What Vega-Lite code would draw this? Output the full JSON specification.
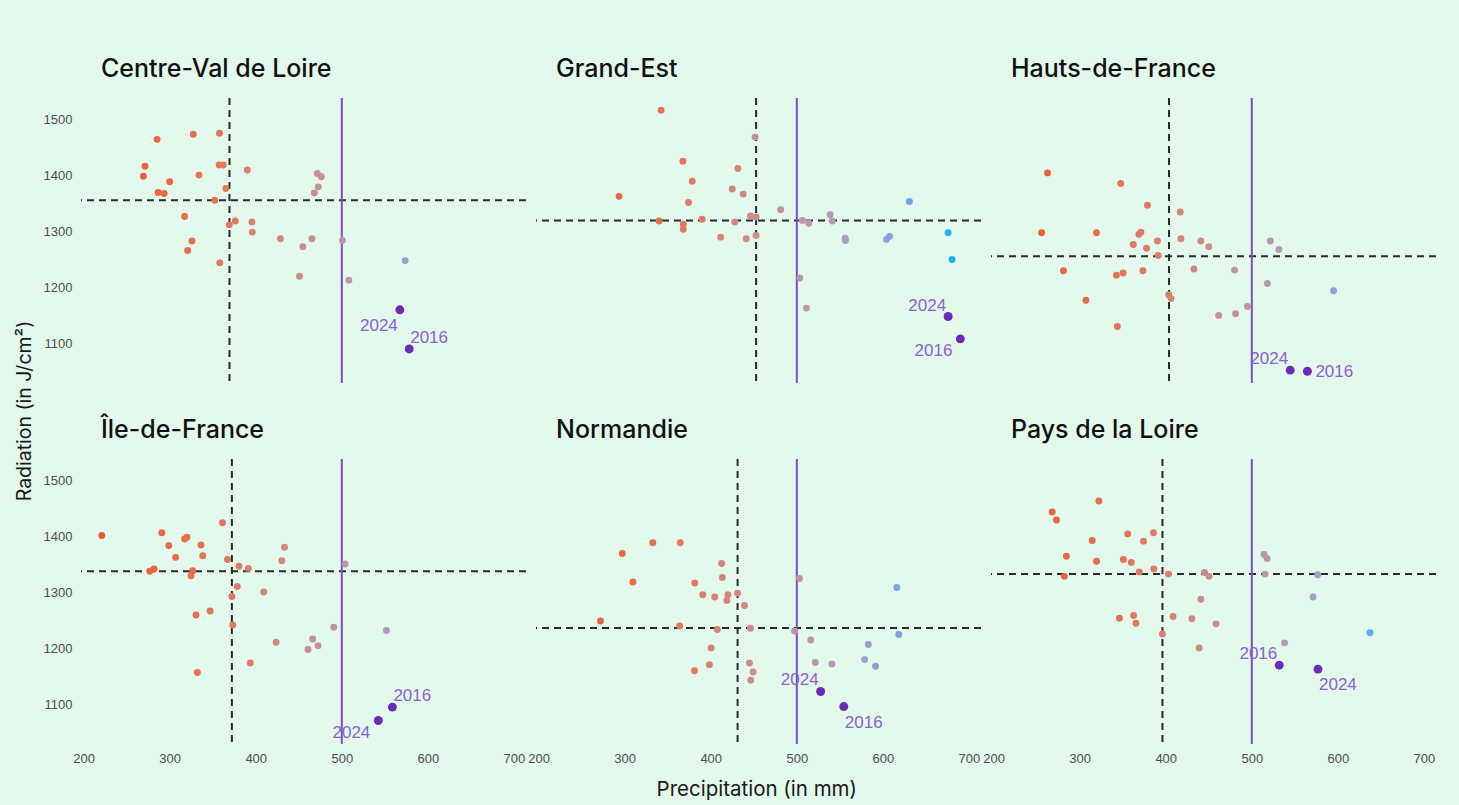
{
  "$schema": "https://vega.github.io/schema/vega-lite/v6.json",
  "background": "#e3f9ec",
  "padding": {"left": 14, "top": 57, "right": 26, "bottom": 8},
  "title": {"text": "Precipitation (in mm)", "orient": "bottom", "anchor": "middle", "frame": "bounds", "dx": 31, "offset": 15, "font": "Inter", "fontSize": 20.5, "fontWeight": 400, "color": "#1a1a1a"},
  "config": {
    "view": {"stroke": null},
    "axis": {"domain": false, "ticks": false, "grid": false, "labelFont": "Liberation Sans", "labelFontSize": 13, "labelColor": "#4d4d4d", "title": null},
    "title": {"anchor": "start", "frame": "group", "dx": 20, "offset": 15, "font": "Inter", "fontSize": 25, "fontWeight": 500, "color": "#111111"},
    "rule": {"color": "#2a2a2a", "strokeWidth": 2, "strokeDash": [7, 5]},
    "circle": {"size": 48, "opacity": 1},
    "text": {"font": "Liberation Sans", "fontSize": 17, "color": "#8b60d0"},
    "concat": {"spacing": 10}
  },
  "data": {"values": [
    {"region": "Centre-Val de Loire", "mean_precip": 369.5, "mean_radiation": 1356},
    {"region": "Centre-Val de Loire", "precip": 269.5, "radiation": 1399},
    {"region": "Centre-Val de Loire", "precip": 271.4, "radiation": 1417},
    {"region": "Centre-Val de Loire", "precip": 285.4, "radiation": 1465},
    {"region": "Centre-Val de Loire", "precip": 286.6, "radiation": 1370},
    {"region": "Centre-Val de Loire", "precip": 293.6, "radiation": 1368},
    {"region": "Centre-Val de Loire", "precip": 300, "radiation": 1389},
    {"region": "Centre-Val de Loire", "precip": 317.4, "radiation": 1327},
    {"region": "Centre-Val de Loire", "precip": 320.9, "radiation": 1266},
    {"region": "Centre-Val de Loire", "precip": 326, "radiation": 1283},
    {"region": "Centre-Val de Loire", "precip": 327.5, "radiation": 1474},
    {"region": "Centre-Val de Loire", "precip": 334.1, "radiation": 1401},
    {"region": "Centre-Val de Loire", "precip": 352.4, "radiation": 1356},
    {"region": "Centre-Val de Loire", "precip": 357.9, "radiation": 1476},
    {"region": "Centre-Val de Loire", "precip": 358.3, "radiation": 1244},
    {"region": "Centre-Val de Loire", "precip": 357.5, "radiation": 1419},
    {"region": "Centre-Val de Loire", "precip": 362.2, "radiation": 1419},
    {"region": "Centre-Val de Loire", "precip": 365.3, "radiation": 1377},
    {"region": "Centre-Val de Loire", "precip": 369.2, "radiation": 1312},
    {"region": "Centre-Val de Loire", "precip": 376.2, "radiation": 1319},
    {"region": "Centre-Val de Loire", "precip": 390.2, "radiation": 1410},
    {"region": "Centre-Val de Loire", "precip": 395.6, "radiation": 1317},
    {"region": "Centre-Val de Loire", "precip": 396, "radiation": 1299},
    {"region": "Centre-Val de Loire", "precip": 428.7, "radiation": 1287},
    {"region": "Centre-Val de Loire", "precip": 450.9, "radiation": 1220},
    {"region": "Centre-Val de Loire", "precip": 454.8, "radiation": 1273},
    {"region": "Centre-Val de Loire", "precip": 465.3, "radiation": 1287},
    {"region": "Centre-Val de Loire", "precip": 468.1, "radiation": 1369},
    {"region": "Centre-Val de Loire", "precip": 471.6, "radiation": 1404},
    {"region": "Centre-Val de Loire", "precip": 476.2, "radiation": 1398},
    {"region": "Centre-Val de Loire", "precip": 472.7, "radiation": 1380},
    {"region": "Centre-Val de Loire", "precip": 500.8, "radiation": 1284},
    {"region": "Centre-Val de Loire", "precip": 508.2, "radiation": 1213},
    {"region": "Centre-Val de Loire", "precip": 573.6, "radiation": 1248},
    {"region": "Centre-Val de Loire", "precip": 567.4, "radiation": 1160, "year": "2024"},
    {"region": "Centre-Val de Loire", "precip": 578.3, "radiation": 1090, "year": "2016"},

    {"region": "Grand-Est", "mean_precip": 452.7, "mean_radiation": 1320},
    {"region": "Grand-Est", "precip": 293.5, "radiation": 1363},
    {"region": "Grand-Est", "precip": 340, "radiation": 1319},
    {"region": "Grand-Est", "precip": 342.3, "radiation": 1517},
    {"region": "Grand-Est", "precip": 367.7, "radiation": 1426},
    {"region": "Grand-Est", "precip": 368.1, "radiation": 1313},
    {"region": "Grand-Est", "precip": 368.1, "radiation": 1304},
    {"region": "Grand-Est", "precip": 378.5, "radiation": 1390},
    {"region": "Grand-Est", "precip": 374.2, "radiation": 1352},
    {"region": "Grand-Est", "precip": 390, "radiation": 1322},
    {"region": "Grand-Est", "precip": 411.5, "radiation": 1290},
    {"region": "Grand-Est", "precip": 425, "radiation": 1376},
    {"region": "Grand-Est", "precip": 431.5, "radiation": 1413},
    {"region": "Grand-Est", "precip": 428, "radiation": 1317},
    {"region": "Grand-Est", "precip": 437.7, "radiation": 1367},
    {"region": "Grand-Est", "precip": 441.2, "radiation": 1287},
    {"region": "Grand-Est", "precip": 446.2, "radiation": 1328},
    {"region": "Grand-Est", "precip": 452.7, "radiation": 1326},
    {"region": "Grand-Est", "precip": 451.5, "radiation": 1469},
    {"region": "Grand-Est", "precip": 452.7, "radiation": 1293},
    {"region": "Grand-Est", "precip": 481.2, "radiation": 1339},
    {"region": "Grand-Est", "precip": 503.5, "radiation": 1217},
    {"region": "Grand-Est", "precip": 506.5, "radiation": 1320},
    {"region": "Grand-Est", "precip": 511.2, "radiation": 1163},
    {"region": "Grand-Est", "precip": 513.8, "radiation": 1315},
    {"region": "Grand-Est", "precip": 538.8, "radiation": 1330},
    {"region": "Grand-Est", "precip": 541.2, "radiation": 1319},
    {"region": "Grand-Est", "precip": 556.2, "radiation": 1288},
    {"region": "Grand-Est", "precip": 556.5, "radiation": 1284},
    {"region": "Grand-Est", "precip": 604.2, "radiation": 1286},
    {"region": "Grand-Est", "precip": 607.7, "radiation": 1291},
    {"region": "Grand-Est", "precip": 630.8, "radiation": 1354},
    {"region": "Grand-Est", "precip": 675.8, "radiation": 1298},
    {"region": "Grand-Est", "precip": 680.4, "radiation": 1250},
    {"region": "Grand-Est", "precip": 675.8, "radiation": 1148, "year": "2024"},
    {"region": "Grand-Est", "precip": 690, "radiation": 1108, "year": "2016"},

    {"region": "Hauts-de-France", "mean_precip": 403.8, "mean_radiation": 1256},
    {"region": "Hauts-de-France", "precip": 255.8, "radiation": 1298},
    {"region": "Hauts-de-France", "precip": 262.7, "radiation": 1405},
    {"region": "Hauts-de-France", "precip": 281.2, "radiation": 1230},
    {"region": "Hauts-de-France", "precip": 307.3, "radiation": 1177},
    {"region": "Hauts-de-France", "precip": 319.6, "radiation": 1298},
    {"region": "Hauts-de-France", "precip": 343.8, "radiation": 1130},
    {"region": "Hauts-de-France", "precip": 342.7, "radiation": 1222},
    {"region": "Hauts-de-France", "precip": 350.4, "radiation": 1226},
    {"region": "Hauts-de-France", "precip": 347.7, "radiation": 1386},
    {"region": "Hauts-de-France", "precip": 362.3, "radiation": 1277},
    {"region": "Hauts-de-France", "precip": 368.8, "radiation": 1295},
    {"region": "Hauts-de-France", "precip": 371.2, "radiation": 1299},
    {"region": "Hauts-de-France", "precip": 373.5, "radiation": 1230},
    {"region": "Hauts-de-France", "precip": 377.7, "radiation": 1270},
    {"region": "Hauts-de-France", "precip": 378.8, "radiation": 1347},
    {"region": "Hauts-de-France", "precip": 390.4, "radiation": 1283},
    {"region": "Hauts-de-France", "precip": 391.2, "radiation": 1257},
    {"region": "Hauts-de-France", "precip": 403.5, "radiation": 1187},
    {"region": "Hauts-de-France", "precip": 406.2, "radiation": 1180},
    {"region": "Hauts-de-France", "precip": 416.9, "radiation": 1335},
    {"region": "Hauts-de-France", "precip": 417.7, "radiation": 1287},
    {"region": "Hauts-de-France", "precip": 432.7, "radiation": 1233},
    {"region": "Hauts-de-France", "precip": 440.8, "radiation": 1283},
    {"region": "Hauts-de-France", "precip": 450, "radiation": 1273},
    {"region": "Hauts-de-France", "precip": 461.5, "radiation": 1150},
    {"region": "Hauts-de-France", "precip": 481.2, "radiation": 1153},
    {"region": "Hauts-de-France", "precip": 480, "radiation": 1231},
    {"region": "Hauts-de-France", "precip": 495, "radiation": 1166},
    {"region": "Hauts-de-France", "precip": 518.1, "radiation": 1207},
    {"region": "Hauts-de-France", "precip": 521.5, "radiation": 1283},
    {"region": "Hauts-de-France", "precip": 531.5, "radiation": 1268},
    {"region": "Hauts-de-France", "precip": 595, "radiation": 1194},
    {"region": "Hauts-de-France", "precip": 544.6, "radiation": 1052, "year": "2024"},
    {"region": "Hauts-de-France", "precip": 564.6, "radiation": 1050, "year": "2016"},

    {"region": "Île-de-France", "mean_precip": 372.3, "mean_radiation": 1338},
    {"region": "Île-de-France", "precip": 221.2, "radiation": 1402},
    {"region": "Île-de-France", "precip": 276.9, "radiation": 1338},
    {"region": "Île-de-France", "precip": 281.9, "radiation": 1342},
    {"region": "Île-de-France", "precip": 290.9, "radiation": 1407},
    {"region": "Île-de-France", "precip": 299, "radiation": 1384},
    {"region": "Île-de-France", "precip": 306.9, "radiation": 1363},
    {"region": "Île-de-France", "precip": 317.4, "radiation": 1396},
    {"region": "Île-de-France", "precip": 320.1, "radiation": 1399},
    {"region": "Île-de-France", "precip": 324.8, "radiation": 1330},
    {"region": "Île-de-France", "precip": 326.7, "radiation": 1339},
    {"region": "Île-de-France", "precip": 330.6, "radiation": 1260},
    {"region": "Île-de-France", "precip": 332.2, "radiation": 1157},
    {"region": "Île-de-France", "precip": 336.4, "radiation": 1385},
    {"region": "Île-de-France", "precip": 338.4, "radiation": 1366},
    {"region": "Île-de-France", "precip": 347, "radiation": 1267},
    {"region": "Île-de-France", "precip": 361.4, "radiation": 1425},
    {"region": "Île-de-France", "precip": 367.2, "radiation": 1359},
    {"region": "Île-de-France", "precip": 372.3, "radiation": 1293},
    {"region": "Île-de-France", "precip": 373.4, "radiation": 1242},
    {"region": "Île-de-France", "precip": 378.5, "radiation": 1311},
    {"region": "Île-de-France", "precip": 380.5, "radiation": 1347},
    {"region": "Île-de-France", "precip": 391.4, "radiation": 1343},
    {"region": "Île-de-France", "precip": 393.7, "radiation": 1174},
    {"region": "Île-de-France", "precip": 409.3, "radiation": 1301},
    {"region": "Île-de-France", "precip": 423.7, "radiation": 1211},
    {"region": "Île-de-France", "precip": 430.3, "radiation": 1357},
    {"region": "Île-de-France", "precip": 433.4, "radiation": 1381},
    {"region": "Île-de-France", "precip": 460.7, "radiation": 1198},
    {"region": "Île-de-France", "precip": 466.1, "radiation": 1217},
    {"region": "Île-de-France", "precip": 472.4, "radiation": 1205},
    {"region": "Île-de-France", "precip": 490.7, "radiation": 1238},
    {"region": "Île-de-France", "precip": 503.9, "radiation": 1351},
    {"region": "Île-de-France", "precip": 551.8, "radiation": 1232},
    {"region": "Île-de-France", "precip": 558.8, "radiation": 1095, "year": "2016"},
    {"region": "Île-de-France", "precip": 542.4, "radiation": 1071, "year": "2024"},

    {"region": "Normandie", "mean_precip": 431.2, "mean_radiation": 1236.5},
    {"region": "Normandie", "precip": 271.9, "radiation": 1249},
    {"region": "Normandie", "precip": 297.3, "radiation": 1370},
    {"region": "Normandie", "precip": 309.6, "radiation": 1319},
    {"region": "Normandie", "precip": 332.7, "radiation": 1389},
    {"region": "Normandie", "precip": 364.6, "radiation": 1389},
    {"region": "Normandie", "precip": 363.8, "radiation": 1240},
    {"region": "Normandie", "precip": 381.2, "radiation": 1160},
    {"region": "Normandie", "precip": 381.5, "radiation": 1317},
    {"region": "Normandie", "precip": 390.8, "radiation": 1296},
    {"region": "Normandie", "precip": 398.5, "radiation": 1171},
    {"region": "Normandie", "precip": 400.4, "radiation": 1201},
    {"region": "Normandie", "precip": 404.6, "radiation": 1292},
    {"region": "Normandie", "precip": 407.7, "radiation": 1234},
    {"region": "Normandie", "precip": 412.7, "radiation": 1352},
    {"region": "Normandie", "precip": 413.5, "radiation": 1327},
    {"region": "Normandie", "precip": 418.8, "radiation": 1286},
    {"region": "Normandie", "precip": 420, "radiation": 1296},
    {"region": "Normandie", "precip": 431.2, "radiation": 1299},
    {"region": "Normandie", "precip": 439.2, "radiation": 1277},
    {"region": "Normandie", "precip": 445, "radiation": 1174},
    {"region": "Normandie", "precip": 446.2, "radiation": 1236},
    {"region": "Normandie", "precip": 446.5, "radiation": 1143},
    {"region": "Normandie", "precip": 449.2, "radiation": 1158},
    {"region": "Normandie", "precip": 497.3, "radiation": 1231},
    {"region": "Normandie", "precip": 503.1, "radiation": 1325},
    {"region": "Normandie", "precip": 516.2, "radiation": 1215},
    {"region": "Normandie", "precip": 521.5, "radiation": 1175},
    {"region": "Normandie", "precip": 540.8, "radiation": 1172},
    {"region": "Normandie", "precip": 578.8, "radiation": 1180},
    {"region": "Normandie", "precip": 583.1, "radiation": 1207},
    {"region": "Normandie", "precip": 591.5, "radiation": 1168},
    {"region": "Normandie", "precip": 616.2, "radiation": 1309},
    {"region": "Normandie", "precip": 618.5, "radiation": 1225},
    {"region": "Normandie", "precip": 527.7, "radiation": 1123, "year": "2024"},
    {"region": "Normandie", "precip": 554.6, "radiation": 1096, "year": "2016"},

    {"region": "Pays de la Loire", "mean_precip": 396.2, "mean_radiation": 1333},
    {"region": "Pays de la Loire", "precip": 268.1, "radiation": 1444},
    {"region": "Pays de la Loire", "precip": 273.1, "radiation": 1430},
    {"region": "Pays de la Loire", "precip": 282.3, "radiation": 1329},
    {"region": "Pays de la Loire", "precip": 284.6, "radiation": 1365},
    {"region": "Pays de la Loire", "precip": 314.6, "radiation": 1393},
    {"region": "Pays de la Loire", "precip": 319.6, "radiation": 1356},
    {"region": "Pays de la Loire", "precip": 322.3, "radiation": 1464},
    {"region": "Pays de la Loire", "precip": 346.2, "radiation": 1254},
    {"region": "Pays de la Loire", "precip": 350.8, "radiation": 1359},
    {"region": "Pays de la Loire", "precip": 355.8, "radiation": 1405},
    {"region": "Pays de la Loire", "precip": 360, "radiation": 1354},
    {"region": "Pays de la Loire", "precip": 362.7, "radiation": 1259},
    {"region": "Pays de la Loire", "precip": 365.4, "radiation": 1245},
    {"region": "Pays de la Loire", "precip": 369.2, "radiation": 1337},
    {"region": "Pays de la Loire", "precip": 374.2, "radiation": 1392},
    {"region": "Pays de la Loire", "precip": 385.8, "radiation": 1407},
    {"region": "Pays de la Loire", "precip": 386.2, "radiation": 1342},
    {"region": "Pays de la Loire", "precip": 396.2, "radiation": 1226},
    {"region": "Pays de la Loire", "precip": 403.1, "radiation": 1333},
    {"region": "Pays de la Loire", "precip": 408.5, "radiation": 1257},
    {"region": "Pays de la Loire", "precip": 430.4, "radiation": 1253},
    {"region": "Pays de la Loire", "precip": 438.8, "radiation": 1201},
    {"region": "Pays de la Loire", "precip": 440.8, "radiation": 1288},
    {"region": "Pays de la Loire", "precip": 445, "radiation": 1336},
    {"region": "Pays de la Loire", "precip": 450.4, "radiation": 1329},
    {"region": "Pays de la Loire", "precip": 458.5, "radiation": 1244},
    {"region": "Pays de la Loire", "precip": 514.2, "radiation": 1368},
    {"region": "Pays de la Loire", "precip": 517.7, "radiation": 1361},
    {"region": "Pays de la Loire", "precip": 515.4, "radiation": 1333},
    {"region": "Pays de la Loire", "precip": 538.1, "radiation": 1210},
    {"region": "Pays de la Loire", "precip": 571.2, "radiation": 1292},
    {"region": "Pays de la Loire", "precip": 576.5, "radiation": 1332},
    {"region": "Pays de la Loire", "precip": 637.3, "radiation": 1228},
    {"region": "Pays de la Loire", "precip": 531.9, "radiation": 1170, "year": "2016"},
    {"region": "Pays de la Loire", "precip": 576.9, "radiation": 1163, "year": "2024"}
  ]},
  "vconcat": [
    {
      "title": {"text": "Radiation (in J/cm²)", "orient": "left", "anchor": "middle", "frame": "bounds", "dx": 0, "offset": 8, "font": "Inter", "fontSize": 19.5, "fontWeight": 400, "color": "#1a1a1a"},
      "spacing": 34,
      "vconcat": [
        {
          "bounds": "flush",
          "hconcat": [
            {
              "title": "Centre-Val de Loire",
              "width": 445, "height": 285,
              "transform": [{"filter": {"field": "region", "equal": "Centre-Val de Loire"}}],
              "encoding": {
                "x": {"type": "quantitative", "scale": {"domain": [197, 714], "nice": false, "zero": false}, "axis": null},
                "y": {"type": "quantitative", "scale": {"domain": [1029, 1539], "nice": false, "zero": false}, "axis": {"values": [1100, 1200, 1300, 1400, 1500], "format": "d", "labelPadding": 9}}
              },
              "layer": [
                {"transform": [{"filter": "isValid(datum.mean_precip)"}], "mark": "rule", "encoding": {"x": {"field": "mean_precip"}}},
                {"transform": [{"filter": "isValid(datum.mean_radiation)"}], "mark": "rule", "encoding": {"y": {"field": "mean_radiation"}}},
                {"transform": [{"filter": "isValid(datum.mean_precip)"}], "mark": {"type": "rule", "color": "#7a4cd0", "strokeDash": []}, "encoding": {"x": {"datum": 500}}},
                {"transform": [{"filter": "isValid(datum.precip) && !isValid(datum.year)"}], "mark": "circle", "encoding": {"x": {"field": "precip"}, "y": {"field": "radiation"}, "color": {"field": "precip", "type": "quantitative", "legend": null, "scale": {"domain": [220, 360, 460, 540, 600, 650], "range": ["#ec5a26", "#e2765a", "#c98f8e", "#b59ab8", "#90a0d8", "#4aa9f4"], "interpolate": "rgb"}}}},
                {"transform": [{"filter": "isValid(datum.year)"}], "mark": {"type": "circle", "size": 80, "color": "#6a2bb5"}, "encoding": {"x": {"field": "precip"}, "y": {"field": "radiation"}}},
                {"transform": [{"filter": "datum.year == '2024'"}], "mark": {"type": "text", "align": "right", "baseline": "alphabetic", "dx": -2, "dy": 21}, "encoding": {"x": {"field": "precip"}, "y": {"field": "radiation"}, "text": {"field": "year"}}},
                {"transform": [{"filter": "datum.year == '2016'"}], "mark": {"type": "text", "align": "left", "baseline": "alphabetic", "dx": 1, "dy": -6}, "encoding": {"x": {"field": "precip"}, "y": {"field": "radiation"}, "text": {"field": "year"}}}
              ]
            },
            {
              "title": "Grand-Est",
              "width": 445, "height": 285,
              "transform": [{"filter": {"field": "region", "equal": "Grand-Est"}}],
              "encoding": {
                "x": {"type": "quantitative", "scale": {"domain": [197, 714], "nice": false, "zero": false}, "axis": null},
                "y": {"type": "quantitative", "scale": {"domain": [1029, 1539], "nice": false, "zero": false}, "axis": null}
              },
              "layer": [
                {"transform": [{"filter": "isValid(datum.mean_precip)"}], "mark": "rule", "encoding": {"x": {"field": "mean_precip"}}},
                {"transform": [{"filter": "isValid(datum.mean_radiation)"}], "mark": "rule", "encoding": {"y": {"field": "mean_radiation"}}},
                {"transform": [{"filter": "isValid(datum.mean_precip)"}], "mark": {"type": "rule", "color": "#7a4cd0", "strokeDash": []}, "encoding": {"x": {"datum": 500}}},
                {"transform": [{"filter": "isValid(datum.precip) && !isValid(datum.year)"}], "mark": "circle", "encoding": {"x": {"field": "precip"}, "y": {"field": "radiation"}, "color": {"field": "precip", "type": "quantitative", "legend": null, "scale": {"domain": [220, 360, 460, 540, 600, 650], "range": ["#ec5a26", "#e2765a", "#c98f8e", "#b59ab8", "#90a0d8", "#4aa9f4"], "interpolate": "rgb"}}}},
                {"transform": [{"filter": "isValid(datum.year)"}], "mark": {"type": "circle", "size": 80, "color": "#6a2bb5"}, "encoding": {"x": {"field": "precip"}, "y": {"field": "radiation"}}},
                {"transform": [{"filter": "datum.year == '2024'"}], "mark": {"type": "text", "align": "right", "baseline": "alphabetic", "dx": -2, "dy": -6}, "encoding": {"x": {"field": "precip"}, "y": {"field": "radiation"}, "text": {"field": "year"}}},
                {"transform": [{"filter": "datum.year == '2016'"}], "mark": {"type": "text", "align": "right", "baseline": "alphabetic", "dx": -8, "dy": 17}, "encoding": {"x": {"field": "precip"}, "y": {"field": "radiation"}, "text": {"field": "year"}}}
              ]
            },
            {
              "title": "Hauts-de-France",
              "width": 445, "height": 285,
              "transform": [{"filter": {"field": "region", "equal": "Hauts-de-France"}}],
              "encoding": {
                "x": {"type": "quantitative", "scale": {"domain": [197, 714], "nice": false, "zero": false}, "axis": null},
                "y": {"type": "quantitative", "scale": {"domain": [1029, 1539], "nice": false, "zero": false}, "axis": null}
              },
              "layer": [
                {"transform": [{"filter": "isValid(datum.mean_precip)"}], "mark": "rule", "encoding": {"x": {"field": "mean_precip"}}},
                {"transform": [{"filter": "isValid(datum.mean_radiation)"}], "mark": "rule", "encoding": {"y": {"field": "mean_radiation"}}},
                {"transform": [{"filter": "isValid(datum.mean_precip)"}], "mark": {"type": "rule", "color": "#7a4cd0", "strokeDash": []}, "encoding": {"x": {"datum": 500}}},
                {"transform": [{"filter": "isValid(datum.precip) && !isValid(datum.year)"}], "mark": "circle", "encoding": {"x": {"field": "precip"}, "y": {"field": "radiation"}, "color": {"field": "precip", "type": "quantitative", "legend": null, "scale": {"domain": [220, 360, 460, 540, 600, 650], "range": ["#ec5a26", "#e2765a", "#c98f8e", "#b59ab8", "#90a0d8", "#4aa9f4"], "interpolate": "rgb"}}}},
                {"transform": [{"filter": "isValid(datum.year)"}], "mark": {"type": "circle", "size": 80, "color": "#6a2bb5"}, "encoding": {"x": {"field": "precip"}, "y": {"field": "radiation"}}},
                {"transform": [{"filter": "datum.year == '2024'"}], "mark": {"type": "text", "align": "right", "baseline": "alphabetic", "dx": -2, "dy": -6}, "encoding": {"x": {"field": "precip"}, "y": {"field": "radiation"}, "text": {"field": "year"}}},
                {"transform": [{"filter": "datum.year == '2016'"}], "mark": {"type": "text", "align": "left", "baseline": "middle", "dx": 8, "dy": 1}, "encoding": {"x": {"field": "precip"}, "y": {"field": "radiation"}, "text": {"field": "year"}}}
              ]
            }
          ]
        },
        {
          "bounds": "flush",
          "hconcat": [
            {
              "title": "Île-de-France",
              "width": 445, "height": 285,
              "transform": [{"filter": {"field": "region", "equal": "Île-de-France"}}],
              "encoding": {
                "x": {"type": "quantitative", "scale": {"domain": [197, 714], "nice": false, "zero": false}, "axis": {"values": [200, 300, 400, 500, 600, 700], "labelPadding": 8}},
                "y": {"type": "quantitative", "scale": {"domain": [1029, 1539], "nice": false, "zero": false}, "axis": {"values": [1100, 1200, 1300, 1400, 1500], "format": "d", "labelPadding": 9}}
              },
              "layer": [
                {"transform": [{"filter": "isValid(datum.mean_precip)"}], "mark": "rule", "encoding": {"x": {"field": "mean_precip"}}},
                {"transform": [{"filter": "isValid(datum.mean_radiation)"}], "mark": "rule", "encoding": {"y": {"field": "mean_radiation"}}},
                {"transform": [{"filter": "isValid(datum.mean_precip)"}], "mark": {"type": "rule", "color": "#7a4cd0", "strokeDash": []}, "encoding": {"x": {"datum": 500}}},
                {"transform": [{"filter": "isValid(datum.precip) && !isValid(datum.year)"}], "mark": "circle", "encoding": {"x": {"field": "precip"}, "y": {"field": "radiation"}, "color": {"field": "precip", "type": "quantitative", "legend": null, "scale": {"domain": [220, 360, 460, 540, 600, 650], "range": ["#ec5a26", "#e2765a", "#c98f8e", "#b59ab8", "#90a0d8", "#4aa9f4"], "interpolate": "rgb"}}}},
                {"transform": [{"filter": "isValid(datum.year)"}], "mark": {"type": "circle", "size": 80, "color": "#6a2bb5"}, "encoding": {"x": {"field": "precip"}, "y": {"field": "radiation"}}},
                {"transform": [{"filter": "datum.year == '2024'"}], "mark": {"type": "text", "align": "right", "baseline": "alphabetic", "dx": -8, "dy": 17}, "encoding": {"x": {"field": "precip"}, "y": {"field": "radiation"}, "text": {"field": "year"}}},
                {"transform": [{"filter": "datum.year == '2016'"}], "mark": {"type": "text", "align": "left", "baseline": "alphabetic", "dx": 1, "dy": -6}, "encoding": {"x": {"field": "precip"}, "y": {"field": "radiation"}, "text": {"field": "year"}}}
              ]
            },
            {
              "title": "Normandie",
              "width": 445, "height": 285,
              "transform": [{"filter": {"field": "region", "equal": "Normandie"}}],
              "encoding": {
                "x": {"type": "quantitative", "scale": {"domain": [197, 714], "nice": false, "zero": false}, "axis": {"values": [200, 300, 400, 500, 600, 700], "labelPadding": 8}},
                "y": {"type": "quantitative", "scale": {"domain": [1029, 1539], "nice": false, "zero": false}, "axis": null}
              },
              "layer": [
                {"transform": [{"filter": "isValid(datum.mean_precip)"}], "mark": "rule", "encoding": {"x": {"field": "mean_precip"}}},
                {"transform": [{"filter": "isValid(datum.mean_radiation)"}], "mark": "rule", "encoding": {"y": {"field": "mean_radiation"}}},
                {"transform": [{"filter": "isValid(datum.mean_precip)"}], "mark": {"type": "rule", "color": "#7a4cd0", "strokeDash": []}, "encoding": {"x": {"datum": 500}}},
                {"transform": [{"filter": "isValid(datum.precip) && !isValid(datum.year)"}], "mark": "circle", "encoding": {"x": {"field": "precip"}, "y": {"field": "radiation"}, "color": {"field": "precip", "type": "quantitative", "legend": null, "scale": {"domain": [220, 360, 460, 540, 600, 650], "range": ["#ec5a26", "#e2765a", "#c98f8e", "#b59ab8", "#90a0d8", "#4aa9f4"], "interpolate": "rgb"}}}},
                {"transform": [{"filter": "isValid(datum.year)"}], "mark": {"type": "circle", "size": 80, "color": "#6a2bb5"}, "encoding": {"x": {"field": "precip"}, "y": {"field": "radiation"}}},
                {"transform": [{"filter": "datum.year == '2024'"}], "mark": {"type": "text", "align": "right", "baseline": "alphabetic", "dx": -2, "dy": -6}, "encoding": {"x": {"field": "precip"}, "y": {"field": "radiation"}, "text": {"field": "year"}}},
                {"transform": [{"filter": "datum.year == '2016'"}], "mark": {"type": "text", "align": "left", "baseline": "alphabetic", "dx": 1, "dy": 21}, "encoding": {"x": {"field": "precip"}, "y": {"field": "radiation"}, "text": {"field": "year"}}}
              ]
            },
            {
              "title": "Pays de la Loire",
              "width": 445, "height": 285,
              "transform": [{"filter": {"field": "region", "equal": "Pays de la Loire"}}],
              "encoding": {
                "x": {"type": "quantitative", "scale": {"domain": [197, 714], "nice": false, "zero": false}, "axis": {"values": [200, 300, 400, 500, 600, 700], "labelPadding": 8}},
                "y": {"type": "quantitative", "scale": {"domain": [1029, 1539], "nice": false, "zero": false}, "axis": null}
              },
              "layer": [
                {"transform": [{"filter": "isValid(datum.mean_precip)"}], "mark": "rule", "encoding": {"x": {"field": "mean_precip"}}},
                {"transform": [{"filter": "isValid(datum.mean_radiation)"}], "mark": "rule", "encoding": {"y": {"field": "mean_radiation"}}},
                {"transform": [{"filter": "isValid(datum.mean_precip)"}], "mark": {"type": "rule", "color": "#7a4cd0", "strokeDash": []}, "encoding": {"x": {"datum": 500}}},
                {"transform": [{"filter": "isValid(datum.precip) && !isValid(datum.year)"}], "mark": "circle", "encoding": {"x": {"field": "precip"}, "y": {"field": "radiation"}, "color": {"field": "precip", "type": "quantitative", "legend": null, "scale": {"domain": [220, 360, 460, 540, 600, 650], "range": ["#ec5a26", "#e2765a", "#c98f8e", "#b59ab8", "#90a0d8", "#4aa9f4"], "interpolate": "rgb"}}}},
                {"transform": [{"filter": "isValid(datum.year)"}], "mark": {"type": "circle", "size": 80, "color": "#6a2bb5"}, "encoding": {"x": {"field": "precip"}, "y": {"field": "radiation"}}},
                {"transform": [{"filter": "datum.year == '2024'"}], "mark": {"type": "text", "align": "left", "baseline": "alphabetic", "dx": 1, "dy": 21}, "encoding": {"x": {"field": "precip"}, "y": {"field": "radiation"}, "text": {"field": "year"}}},
                {"transform": [{"filter": "datum.year == '2016'"}], "mark": {"type": "text", "align": "right", "baseline": "alphabetic", "dx": -2, "dy": -6}, "encoding": {"x": {"field": "precip"}, "y": {"field": "radiation"}, "text": {"field": "year"}}}
              ]
            }
          ]
        }
      ]
    }
  ]
}
